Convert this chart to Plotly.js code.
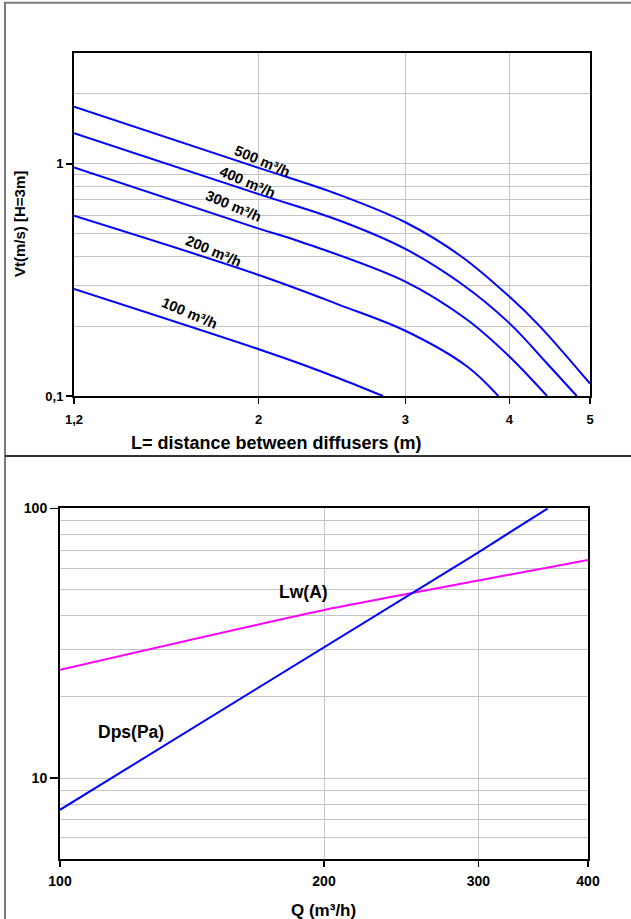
<!DOCTYPE html>
<html>
<head>
<meta charset="utf-8">
<script src="https://cdn.plot.ly/plotly-3.0.1.min.js"></script>
<style>html,body{margin:0;padding:0;background:#fff;}#chart{width:631px;height:919px;}</style>
</head>
<body>
<div id="chart"></div>
<script>
// ---- Top chart: Vt vs distance between diffusers (H = 3 m) ----
const L500 = [1.2, 2.0, 2.5, 3.0, 3.5, 4.0, 4.35, 5.0];
const V500 = [1.76, 0.96, 0.735, 0.56, 0.40, 0.268, 0.20, 0.113];
const L400 = [1.2, 2.0, 2.5, 3.0, 3.5, 4.0, 4.44, 4.82];
const V400 = [1.356, 0.74, 0.57, 0.43, 0.305, 0.206, 0.138, 0.1];
const L300 = [1.2, 2.0, 2.24, 3.0, 3.56, 4.0, 4.44];
const V300 = [0.965, 0.526, 0.463, 0.311, 0.213, 0.148, 0.1];
const L200 = [1.2, 2.0, 2.5, 3.0, 3.56, 3.88];
const V200 = [0.597, 0.332, 0.247, 0.191, 0.134, 0.1];
const L100 = [1.2, 2.0, 2.24, 2.5, 2.82];
const V100 = [0.289, 0.159, 0.138, 0.119, 0.1];
const curveLabels = ["500 m³/h", "400 m³/h", "300 m³/h", "200 m³/h", "100 m³/h"];
const topXTicks = [1.2, 2, 3, 4, 5];
const topXTickText = ["1,2", "2", "3", "4", "5"];
const topYTicks = [0.1, 1];
const topYTickText = ["0,1", "1"];
const topYMinor = [0.2, 0.3, 0.4, 0.5, 0.6, 0.7, 0.8, 0.9, 2];

// ---- Bottom chart: Dps and Lw(A) vs Q ----
const Qdps = [100, 200, 300, 360];
const Dps = [7.63, 30.5, 68.7, 100];
const Qlw = [100, 200, 300, 400];
const LwA = [25.2, 42.0, 54.0, 64.4];
const botXTicks = [100, 200, 300, 400];
const botYTicks = [10, 100];
const botYMinor = [6, 7, 8, 9, 20, 30, 40, 50, 60, 70, 80, 90];

const FONT = "Liberation Sans, Arial, sans-serif";
const BLUE = "#0000FF";
const MAG = "#FF00FF";
const GRID = "#c4c4c4";

const lineStyle = {color: BLUE, width: 2, shape: "spline", smoothing: 1.0};
const topSets = [[L500, V500], [L400, V400], [L300, V300], [L200, V200], [L100, V100]];
const traces = topSets.map((s, i) => ({
  x: s[0], y: s[1], type: "scatter", mode: "lines", name: curveLabels[i],
  xaxis: "x", yaxis: "y", line: lineStyle, hoverinfo: "skip"
}));
traces.push({x: Qlw, y: LwA, type: "scatter", mode: "lines", name: "Lw(A)",
  xaxis: "x2", yaxis: "y2", line: {color: MAG, width: 2, shape: "spline", smoothing: 0.6}, hoverinfo: "skip"});
traces.push({x: Qdps, y: Dps, type: "scatter", mode: "lines", name: "Dps(Pa)",
  xaxis: "x2", yaxis: "y2", line: {color: BLUE, width: 2}, hoverinfo: "skip"});

const W = 631, H = 919;
const px = v => v / W;
const py = v => 1 - v / H;

const tickFont = s => ({family: FONT, size: s, color: "#000", weight: 700});
const axisBase = {
  type: "log", showline: true, linecolor: "#000", linewidth: 2, mirror: true,
  ticks: "outside", tickcolor: "#000", tickwidth: 1.5, ticklen: 6,
  showgrid: true, gridcolor: GRID, gridwidth: 1, zeroline: false, fixedrange: true,
  tickmode: "array"
};

// label positions (log10 values for log axes)
const labelPos = [[0.305, 0.012], [0.2874, -0.080], [0.2706, -0.183], [0.2465, -0.377], [0.2177, -0.643]];
const annotations = curveLabels.map((t, i) => ({
  x: labelPos[i][0], y: labelPos[i][1], xref: "x", yref: "y", text: t,
  showarrow: false, textangle: 23, xanchor: "center", yanchor: "middle",
  font: {family: FONT, size: 14.5, color: "#000", weight: 700}
}));
annotations.push({x: 2.278, y: 1.688, xref: "x2", yref: "y2", text: "Lw(A)", showarrow: false,
  xanchor: "center", yanchor: "middle", font: {family: FONT, size: 17.5, color: "#000", weight: 700}});
annotations.push({x: 2.0807, y: 1.170, xref: "x2", yref: "y2", text: "Dps(Pa)", showarrow: false,
  xanchor: "center", yanchor: "middle", font: {family: FONT, size: 17.5, color: "#000", weight: 700}});
annotations.push({x: px(276.5), y: py(442.5), xref: "paper", yref: "paper", text: "L= distance between diffusers (m)",
  xanchor: "center", yanchor: "middle", showarrow: false, font: {family: FONT, size: 18, color: "#000", weight: 700}});
annotations.push({x: px(19), y: py(224), xref: "paper", yref: "paper", text: "Vt(m/s) [H=3m]", textangle: -90,
  xanchor: "center", yanchor: "middle", showarrow: false, font: {family: FONT, size: 15, color: "#000", weight: 700}});
annotations.push({x: px(324), y: py(910.5), xref: "paper", yref: "paper", text: "Q (m³/h)",
  xanchor: "center", yanchor: "middle", showarrow: false, font: {family: FONT, size: 17, color: "#000", weight: 700}});

const shapes = [
  {type: "line", xref: "paper", yref: "paper", x0: px(5), x1: 1, y0: py(2.7), y1: py(2.7), line: {color: "#7a7a7a", width: 2}},
  {type: "line", xref: "paper", yref: "paper", x0: px(5), x1: px(5), y0: py(2), y1: 0, line: {color: "#7a7a7a", width: 2}},
  {type: "line", xref: "paper", yref: "paper", x0: px(5), x1: 1, y0: py(456), y1: py(456), line: {color: "#333", width: 2}}
];

const layout = {
  width: W, height: H, margin: {l: 0, r: 0, t: 0, b: 0},
  paper_bgcolor: "#fff", plot_bgcolor: "#fff", showlegend: false,
  xaxis: Object.assign({}, axisBase, {
    domain: [px(74), px(590)], range: [Math.log10(1.2), Math.log10(5)], anchor: "y",
    tickvals: topXTicks, ticktext: topXTickText, tickfont: tickFont(13), ticklabelstandoff: 4
  }),
  yaxis: Object.assign({}, axisBase, {
    domain: [py(396), py(53)], range: [-1, Math.log10(3)], anchor: "x",
    tickvals: topYTicks, ticktext: topYTickText, tickfont: tickFont(13),
    minor: {tickmode: "array", tickvals: topYMinor, showgrid: true, gridcolor: GRID, gridwidth: 1, ticks: ""}
  }),
  xaxis2: Object.assign({}, axisBase, {
    domain: [px(60), px(588)], range: [2, Math.log10(400)], anchor: "y2",
    tickvals: botXTicks, ticktext: botXTicks.map(String), tickfont: tickFont(14), ticklen: 6, ticklabelstandoff: 2
  }),
  yaxis2: Object.assign({}, axisBase, {
    domain: [py(859.3), py(508.3)], range: [Math.log10(5), 2], anchor: "x2",
    tickvals: botYTicks, ticktext: botYTicks.map(String), tickfont: tickFont(14), ticklen: 8,
    minor: {tickmode: "array", tickvals: botYMinor, showgrid: true, gridcolor: GRID, gridwidth: 1, ticks: ""}
  }),
  annotations: annotations,
  shapes: shapes
};

Plotly.newPlot("chart", traces, layout, {displayModeBar: false, staticPlot: true});
</script>
</body>
</html>
